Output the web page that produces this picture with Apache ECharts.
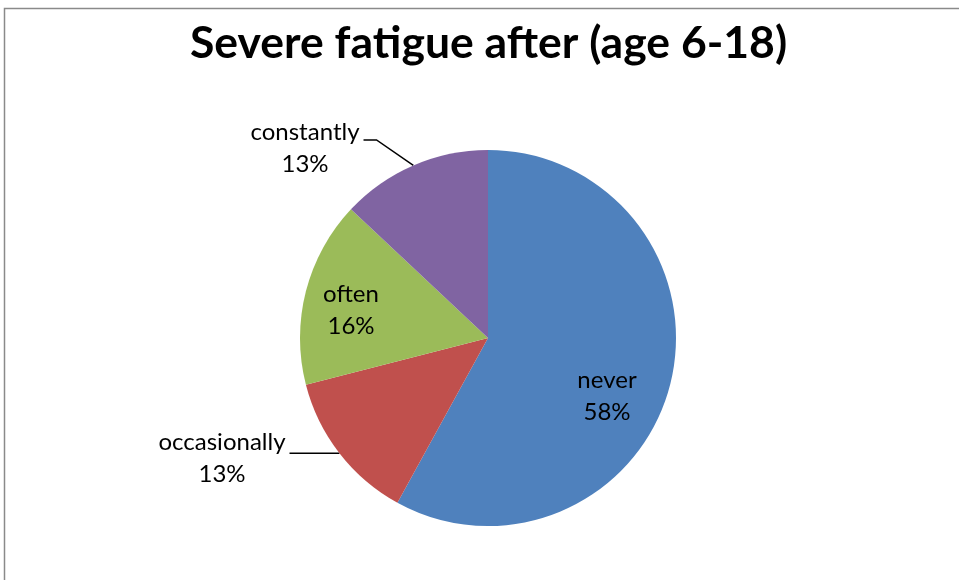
<!DOCTYPE html>
<html>
<head>
<meta charset="utf-8">
<script src="https://cdn.jsdelivr.net/npm/echarts@6/dist/echarts.min.js"></script>
<style>
  html, body { margin: 0; padding: 0; background: #fff; }
  #chart { width: 959px; height: 580px; }
</style>
</head>
<body>
<div id="chart"></div>
<script>
// Answers to the survey question, in drawing order (clockwise from 12 o'clock)
const categories = ['never', 'occasionally', 'often', 'constantly'];
const shares = [58, 13, 16, 13];
const sliceColors = ['#4F81BD', '#C0504D', '#9BBB59', '#8064A2'];

// Pie geometry
const CX = 488, CY = 338, R = 188;

// Where each label's text block sits, relative to the pie centre,
// and whether it sits on the slice or outside with a leader line
const labelPlacement = [
  { dx: 119, dy: 58, outside: false },
  { dx: -266, dy: 120, outside: true },
  { dx: -137, dy: -28, outside: false },
  { dx: -183, dy: -190, outside: true }
];

const total = shares.reduce((a, b) => a + b, 0);

const chart = echarts.init(document.getElementById('chart'), null, { renderer: 'canvas' });

const seriesData = categories.map((name, i) => ({
  name: name,
  value: shares[i],
  itemStyle: { color: sliceColors[i] },
  label: { position: labelPlacement[i].outside ? 'outside' : 'inside' },
  labelLine: { show: labelPlacement[i].outside }
}));

// edge point of a slice at its middle angle
function sliceEdge(i) {
  let before = 0;
  for (let k = 0; k < i; k++) before += shares[k];
  const mid = (before + shares[i] / 2) / total * Math.PI * 2;
  return [CX + R * Math.sin(mid), CY - R * Math.cos(mid)];
}

chart.setOption({
  animation: false,
  backgroundColor: '#ffffff',
  title: {
    text: 'Severe fatigue after (age 6-18)',
    left: 190,
    top: 21,
    padding: 0,
    textStyle: {
      fontFamily: 'Lato',
      fontWeight: 'bold',
      fontSize: 44.5,
      color: '#000'
    }
  },
  graphic: [{
    type: 'rect',
    shape: { x: 4.5, y: 8.5, width: 1200, height: 1200 },
    style: { fill: 'none', stroke: '#8a8a8a', lineWidth: 1.5 },
    silent: true
  }],
  series: [{
    type: 'pie',
    center: [CX, CY],
    radius: R,
    startAngle: 90,
    clockwise: true,
    avoidLabelOverlap: false,
    data: seriesData,
    label: {
      show: true,
      formatter: function (p) {
        return p.name + '\n' + Math.round(p.value / total * 100) + '%';
      },
      fontFamily: 'Lato',
      fontSize: 24,
      lineHeight: 32,
      color: '#000',
      align: 'center'
    },
    labelLine: {
      lineStyle: { color: '#000', width: 1.5 },
      length: 20,
      length2: 10
    },
    labelLayout: function (params) {
      const i = params.dataIndex;
      const p = labelPlacement[i];
      const x = CX + p.dx, y = CY + p.dy;
      const out = { x: x, y: y, align: 'center', verticalAlign: 'middle' };
      if (p.outside) {
        const w = params.labelRect.width;
        const edge = sliceEdge(i);
        const textRight = x + w / 2 + 4;
        const lineY = y - 8;
        const elbow = [textRight + 13, lineY];
        if (Math.abs(edge[1] - lineY) < 6) {
          out.labelLinePoints = [edge, [textRight + 13, edge[1]], [textRight, edge[1]]];
        } else {
          out.labelLinePoints = [edge, elbow, [textRight, lineY]];
        }
      }
      return out;
    }
  }]
});
</script>
</body>
</html>
